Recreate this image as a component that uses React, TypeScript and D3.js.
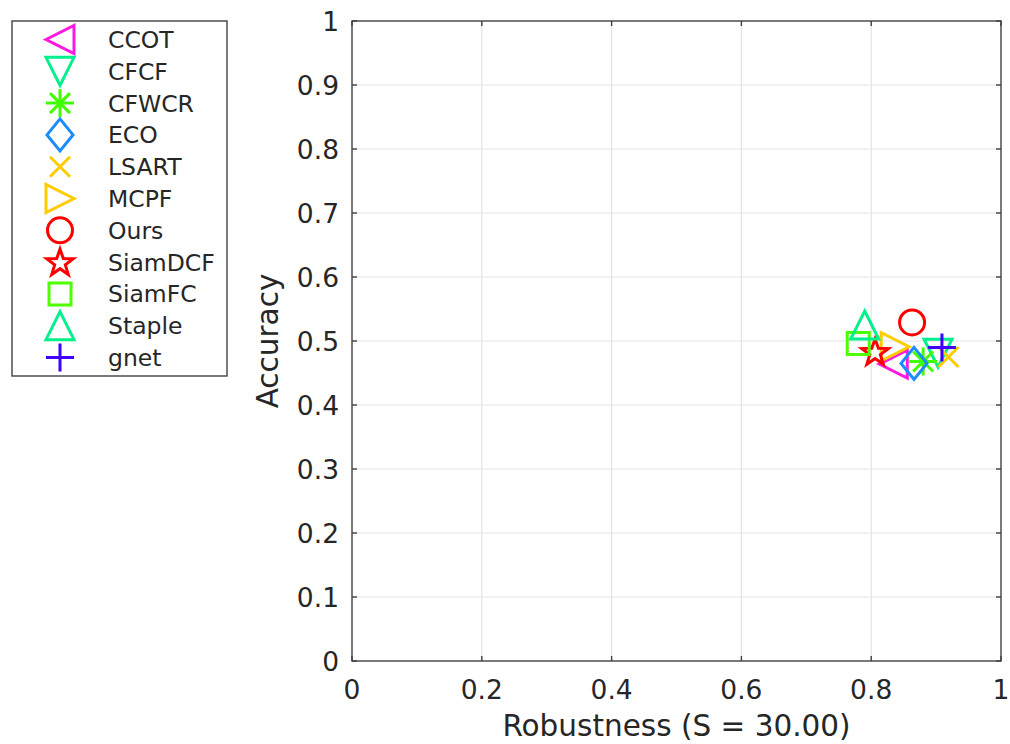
import React from 'react';
import * as d3 from 'd3';

// trackers, in legend order (also drawing order)
const trackers = ['CCOT', 'CFCF', 'CFWCR', 'ECO', 'LSART', 'MCPF', 'Ours', 'SiamDCF', 'SiamFC', 'Staple', 'gnet'];
const robustness = [0.834, 0.903, 0.880, 0.866, 0.919, 0.837, 0.863, 0.806, 0.780, 0.790, 0.909];
const accuracy = [0.464, 0.481, 0.468, 0.465, 0.475, 0.491, 0.529, 0.483, 0.496, 0.525, 0.490];
const markers = ['tri-left', 'tri-down', 'asterisk', 'diamond', 'x', 'tri-right', 'circle', 'star', 'square', 'tri-up', 'plus'];
const colors = ['#ff1ae0', '#00f08c', '#40ff00', '#1a8cff', '#ffcc00', '#ffcc00', '#ff0000', '#ff0000', '#4dff00', '#00f08c', '#4000ff'];

const xTicks = [0, 0.2, 0.4, 0.6, 0.8, 1];
const yTicks = [0, 0.1, 0.2, 0.3, 0.4, 0.5, 0.6, 0.7, 0.8, 0.9, 1];

const W = 1010;
const H = 744;
const plot = { left: 352, right: 1001, top: 21, bottom: 661 };
const FONT = '"DejaVu Sans", sans-serif';
const TXT = '#262626';

const markerPath = (type: string): string => {
  const s = 14;
  switch (type) {
    case 'tri-left':
      return `M${-s},0L${s},${-s}L${s},${s}Z`;
    case 'tri-right':
      return `M${s},0L${-s},${-s}L${-s},${s}Z`;
    case 'tri-up':
      return `M0,${-s}L${s},${s}L${-s},${s}Z`;
    case 'tri-down':
      return `M0,${s}L${s},${-s}L${-s},${-s}Z`;
    case 'diamond':
      return `M0,-16L13,0L0,16L-13,0Z`;
    case 'square':
      return `M-11,-11H11V11H-11Z`;
    case 'plus':
      return `M-14,0H14M0,-14V14`;
    case 'x':
      return `M-10,-10L10,10M-10,10L10,-10`;
    case 'asterisk':
      return `M-14,0H14M0,-14V14M-10,-10L10,10M-10,10L10,-10`;
    case 'star': {
      const pts: string[] = [];
      for (let i = 0; i < 10; i++) {
        const r = i % 2 === 0 ? 14 : 5.6;
        const a = -Math.PI / 2 + (i * Math.PI) / 5;
        pts.push(`${(r * Math.cos(a)).toFixed(2)},${(r * Math.sin(a) + 1).toFixed(2)}`);
      }
      return 'M' + pts.join('L') + 'Z';
    }
    default:
      return '';
  }
};

const Marker = ({ type, color, x, y }: { type: string; color: string; x: number; y: number }) => {
  if (type === 'circle') {
    return <circle cx={x} cy={y} r={12.5} fill="none" stroke={color} strokeWidth={3} />;
  }
  return (
    <path
      d={markerPath(type)}
      transform={`translate(${x},${y})`}
      fill="none"
      stroke={color}
      strokeWidth={3}
      strokeLinejoin="miter"
    />
  );
};

export default function App() {
  const x = d3.scaleLinear().domain([0, 1]).range([plot.left, plot.right]);
  const y = d3.scaleLinear().domain([0, 1]).range([plot.bottom, plot.top]);
  const tickLen = 5;

  const legend = { x: 12, y: 21, w: 215, h: 355, rowStart: 39.5, rowStep: 31.8 };

  return (
    <svg
      width={W}
      height={H}
      style={{ position: 'absolute', left: 0, top: 0, background: '#fff' }}
      fontFamily={FONT}
    >
      <rect x={0} y={0} width={W} height={H} fill="#fff" />

      {/* grid */}
      {xTicks.slice(1, -1).map(t => (
        <line key={'gx' + t} x1={x(t)} x2={x(t)} y1={plot.top} y2={plot.bottom} stroke="#e3e3e3" strokeWidth={1.2} />
      ))}
      {yTicks.slice(1, -1).map(t => (
        <line key={'gy' + t} x1={plot.left} x2={plot.right} y1={y(t)} y2={y(t)} stroke="#e3e3e3" strokeWidth={1.2} />
      ))}

      {/* box and ticks */}
      <rect
        x={plot.left}
        y={plot.top}
        width={plot.right - plot.left}
        height={plot.bottom - plot.top}
        fill="none"
        stroke="#404040"
        strokeWidth={1.4}
      />
      {xTicks.map(t => (
        <g key={'tx' + t}>
          <line x1={x(t)} x2={x(t)} y1={plot.bottom} y2={plot.bottom - tickLen} stroke="#404040" strokeWidth={1.4} />
          <line x1={x(t)} x2={x(t)} y1={plot.top} y2={plot.top + tickLen} stroke="#404040" strokeWidth={1.4} />
          <text x={x(t)} y={699} textAnchor="middle" fontSize={26.5} fill={TXT}>
            {d3.format('~g')(t)}
          </text>
        </g>
      ))}
      {yTicks.map(t => (
        <g key={'ty' + t}>
          <line x1={plot.left} x2={plot.left + tickLen} y1={y(t)} y2={y(t)} stroke="#404040" strokeWidth={1.4} />
          <line x1={plot.right} x2={plot.right - tickLen} y1={y(t)} y2={y(t)} stroke="#404040" strokeWidth={1.4} />
          <text x={339} y={y(t) + 9.5} textAnchor="end" fontSize={26.5} fill={TXT}>
            {d3.format('~g')(t)}
          </text>
        </g>
      ))}

      {/* axis labels */}
      <text x={(plot.left + plot.right) / 2} y={736} textAnchor="middle" fontSize={29.5} fill={TXT}>
        Robustness (S = 30.00)
      </text>
      <text
        transform={`translate(278,${(plot.top + plot.bottom) / 2}) rotate(-90)`}
        textAnchor="middle"
        fontSize={29.5}
        fill={TXT}
      >
        Accuracy
      </text>

      {/* points */}
      {trackers.map((name, i) => (
        <Marker key={'p' + name} type={markers[i]} color={colors[i]} x={x(robustness[i])} y={y(accuracy[i])} />
      ))}

      {/* legend */}
      <rect x={legend.x} y={legend.y} width={legend.w} height={legend.h} fill="#fff" stroke="#404040" strokeWidth={1.4} />
      {trackers.map((name, i) => {
        const cy = legend.rowStart + i * legend.rowStep;
        return (
          <g key={'l' + name}>
            <Marker type={markers[i]} color={colors[i]} x={60} y={cy} />
            <text x={108} y={cy + 8.5} fontSize={23.5} fill={TXT}>
              {name}
            </text>
          </g>
        );
      })}
    </svg>
  );
}
